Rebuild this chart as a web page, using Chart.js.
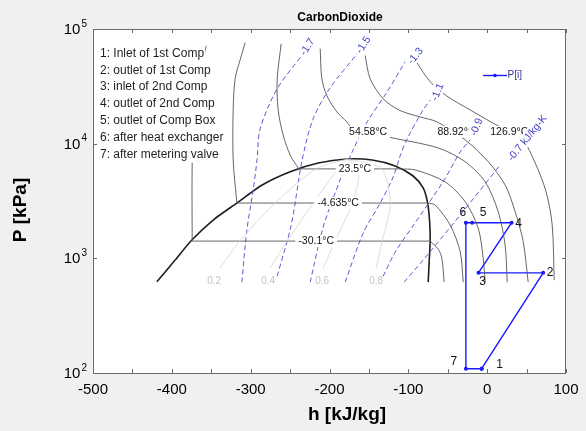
<!DOCTYPE html>
<html>
<head>
<meta charset="utf-8">
<script src="https://cdn.jsdelivr.net/npm/chart.js@4.4.0/dist/chart.umd.min.js"></script>
<style>
  html, body { margin: 0; padding: 0; background: #f0f0f0; }
</style>
</head>
<body>
<canvas id="myChart" width="586" height="431"></canvas>
<script>
const FONT = '"Liberation Sans", Arial, sans-serif';

// saturation dome (h in kJ/kg, P in kPa)
const domeH = [-419, -395.8, -374.6, -347.6, -317.5, -285.4, -249.9, -214.4, -178, -145.9, -116.7, -93.9, -81.2, -75.5, -72.9, -72.3, -73.6, -74.8];
const domeP = [624, 966, 1443, 2158, 3035, 4365, 5700, 6790, 7360, 7210, 6400, 5224, 4110, 3035, 2045, 1414, 927, 620];

// isotherms: liquid / supercritical branch, then vapour branch (plateau joins them)
const isoNames = ['-30.1°C', '-4.635°C', '23.5°C', '54.58°C', '88.92°C', '126.9°C'];
const isoLiqH = [
    [-356.4, -366.6, -371.7, -374.2, -374.2],
    [-307, -313.3, -319.7, -322.2, -322.2, -317.5],
    [-261.3, -266.4, -265.1, -258.8, -249.9, -239],
    [-211.8, -209.7, -203.3, -190.7, -178, -172.5, -125.6, -62.2, -27.9, -2.5, 14, 22.8, 25.4],
    [-154.8, -148.4, -131.9, -110.4, -85, -63.8, -27.9, 1.3, 22.8, 35.5, 45.7, 52],
    [-89.2, -72.3, -51.1, -21.6, 3.8, 44.4, 60.9, 74.8, 82.5, 85]
];
const isoLiqP = [
    [71400, 36100, 16100, 6520, 1414],
    [75900, 53950, 36800, 19700, 7210, 3035],
    [74300, 36100, 19700, 11900, 7970, 6025],
    [67300, 36800, 26200, 18950, 15500, 14000, 11460, 9180, 6960, 4640, 2550, 1303, 620],
    [58700, 36800, 24600, 19450, 17100, 15500, 10800, 6960, 4365, 2550, 1400, 620],
    [50800, 34700, 26000, 19700, 15600, 10800, 6790, 3790, 1950, 645]
];
const isoVapH = [
    [-72.3, -62, -57.5, -54.5],
    [-75.5, -66, -46.9, -34.2, -30.4],
    [-110.4, -91.3, -53.3, -27.9, -11.4, -5.1, -2.5],
    [], [], []
];
const isoVapP = [
    [1414, 1200, 1000, 620],
    [3035, 2915, 1950, 1140, 620],
    [6025, 5900, 4640, 3120, 1837, 1005, 620],
    [], [], []
];
const isoLabelH = [-216.9, -189, -167.8, -151, -39, 28];
const isoLabelP = [1414, 3035, 6025, 12680, 12680, 12680];

// isentropes (kJ/kg-K)
const sNames = ['-1.7', '-1.5', '-1.3', '-1.1', '-0.9', '-0.7 kJ/kg-K'];
const sH = [
    [-311.2, -304.8, -296.8, -291.8, -288, -266.4, -233.4],
    [-266.4, -248.6, -234.7, -220.7, -199.2, -164.9],
    [-224.5, -208, -186.5, -170, -152.2, -126.9, -104],
    [-180.1, -157.3, -135.7, -119.2, -110.4, -101.5, -81.2, -72.3],
    [-131.9, -116.7, -95.1, -54.5, -34.2, -21.6],
    [-105.3, -81.2, -34.2, 16.5]
];
const sP = [
    [620, 1766, 3945, 7360, 13450, 30100, 60800],
    [699, 1950, 7210, 16500, 30700, 60800],
    [620, 1874, 4830, 8830, 15500, 28300, 51800],
    [620, 1660, 3035, 5125, 7820, 11000, 19700, 24000],
    [699, 1133, 1874, 4830, 8470, 10800],
    [620, 966, 2385, 6520]
];
const sLabelH = [-228.3, -157.3, -91.3, -63.4, -14, 50.7];
const sLabelP = [70000, 72900, 58500, 28300, 14000, 11220];
const sLabelAngle = [-57, -57, -50, -68, -68, -51];

// quality lines
const qNames = ['0.2', '0.4', '0.6', '0.8'];
const qH = [
    [-338.7, -313.8, -268.9, -216.9, -177.6],
    [-275.3, -253.7, -220.7, -189, -177.6],
    [-208, -192.8, -171.2, -162.4, -177.6],
    [-140.8, -133.2, -123, -134.4, -177.6]
];
const qP = [822, 1414, 3035, 6025, 7360];
const qLabelH = [-346.3, -277.8, -209.3, -140.8];
const qLabelP = 632;

// cycle states P[i]
const cycH = [-7, 71, -11, 31, -19, -27, -27, -7];
const cycP = [109, 747, 747, 2045, 2045, 2045, 109, 109];
const stateNames = ['1', '2', '3', '4', '5', '6', '7'];
const stateNotes = [
    '1: Inlet of 1st Comp',
    '2: outlet of 1st Comp',
    '3: inlet of 2nd Comp',
    '4: outlet of 2nd Comp',
    '5: outlet of Comp Box',
    '6: after heat exchanger',
    '7: after metering valve'
];

const xTicks = [-500, -400, -300, -200, -100, 0, 100];
const yExp = [2, 3, 4, 5];

const pts = (hs, ps) => hs.map((h, i) => ({ x: h, y: Array.isArray(ps) ? ps[i] : ps }));

const datasets = [];
qH.forEach(hs => datasets.push({
    data: pts(hs, qP), borderColor: '#d4d4d4', borderWidth: 0.8, tension: 0.3
}));
isoLiqH.forEach((hs, i) => {
    datasets.push({ data: pts(hs, isoLiqP[i]), borderColor: '#555555', borderWidth: 0.9, tension: 0.3 });
    if (isoVapH[i].length) {
        const n = hs.length - 1;
        datasets.push({
            data: [{ x: hs[n], y: isoLiqP[i][n] }, { x: isoVapH[i][0], y: isoVapP[i][0] }],
            borderColor: '#555555', borderWidth: 0.9
        });
        datasets.push({ data: pts(isoVapH[i], isoVapP[i]), borderColor: '#555555', borderWidth: 0.9, tension: 0.3 });
    }
});
sH.forEach((hs, i) => datasets.push({
    data: pts(hs, sP[i]), borderColor: '#5c5cd6', borderWidth: 1, borderDash: [5, 3], tension: 0.3
}));
datasets.push({ data: pts(domeH, domeP), borderColor: '#1e1e1e', borderWidth: 1.6, tension: 0.25 });
datasets.push({
    label: 'P[i]', data: pts(cycH, cycP), borderColor: '#1a1aff', borderWidth: 1.4,
    pointRadius: 2, pointBackgroundColor: '#1a1aff', pointBorderWidth: 0
});
datasets.forEach(d => { d.showLine = true; if (d.pointRadius === undefined) d.pointRadius = 0; });

// label offsets for the state numbers, in pixels
const stateDX = [18, 7, 4, 7, 11, -3, -12];
const stateDY = [-4, 0, 9, 1, -10, -10, -7];

function boxText(c, text, px, py, font, color, angle, pad) {
    c.save();
    c.translate(px, py);
    if (angle) c.rotate(angle * Math.PI / 180);
    c.font = font;
    const w = c.measureText(text).width;
    c.fillStyle = '#ffffff';
    c.fillRect(-w / 2 - pad, -6, w + pad * 2, 12);
    c.fillStyle = color;
    c.textAlign = 'center';
    c.textBaseline = 'middle';
    c.fillText(text, 0, 0.5);
    c.restore();
}

const deco = {
    id: 'deco',
    beforeDraw(chart) {
        const c = chart.ctx, a = chart.chartArea;
        c.save();
        c.fillStyle = '#f0f0f0';
        c.fillRect(0, 0, chart.width, chart.height);
        c.fillStyle = '#ffffff';
        c.fillRect(a.left, a.top, a.right - a.left, a.bottom - a.top);
        c.restore();
    },
    afterDatasetsDraw(chart) {
        const c = chart.ctx, a = chart.chartArea;
        const X = v => chart.scales.x.getPixelForValue(v);
        const Y = v => chart.scales.y.getPixelForValue(v);

        // isotherm labels
        isoNames.forEach((t, i) => boxText(c, t, X(isoLabelH[i]), Y(isoLabelP[i]), '10.5px ' + FONT, '#111', 0, 3));
        // quality labels
        c.save();
        c.font = '10px ' + FONT;
        c.fillStyle = '#c4c4c4';
        c.textAlign = 'center';
        c.textBaseline = 'middle';
        qNames.forEach((t, i) => c.fillText(t, X(qLabelH[i]), Y(qLabelP)));
        c.restore();
        // isentrope labels
        sNames.forEach((t, i) => boxText(c, t, X(sLabelH[i]), Y(sLabelP[i]), '10.5px ' + FONT, '#3c3cc4', sLabelAngle[i], 1));

        // state notes
        c.save();
        c.font = '12px ' + FONT;
        c.textBaseline = 'middle';
        stateNotes.forEach((t, i) => {
            const y = a.top + 24.5 + i * 16.8;
            const w = c.measureText(t).width;
            c.fillStyle = '#ffffff';
            c.fillRect(a.left + 5, y - 8.5, w + 3, 17);
            c.fillStyle = '#1e1e1e';
            c.fillText(t, a.left + 7, y);
        });
        c.restore();

        // state numbers
        c.save();
        c.font = '12px ' + FONT;
        c.fillStyle = '#111';
        c.textAlign = 'center';
        c.textBaseline = 'middle';
        stateNames.forEach((t, i) => c.fillText(t, X(cycH[i]) + stateDX[i], Y(cycP[i]) + stateDY[i]));
        c.restore();

        // legend
        c.save();
        const ly = a.top + 46.5, lx = a.right - 83;
        c.strokeStyle = '#1a1aff';
        c.lineWidth = 1.4;
        c.beginPath(); c.moveTo(lx, ly); c.lineTo(lx + 24, ly); c.stroke();
        c.fillStyle = '#1a1aff';
        c.beginPath(); c.arc(lx + 12, ly, 1.8, 0, Math.PI * 2); c.fill();
        c.font = '10px ' + FONT;
        c.fillStyle = '#33339a';
        c.textBaseline = 'middle';
        c.fillText(datasets[datasets.length - 1].label, lx + 24.5, ly);
        c.restore();
    },
    afterDraw(chart) {
        const c = chart.ctx, a = chart.chartArea;
        const X = v => chart.scales.x.getPixelForValue(v);
        const Y = v => chart.scales.y.getPixelForValue(v);
        c.save();
        // frame
        c.strokeStyle = '#6a6a6a';
        c.lineWidth = 1;
        c.strokeRect(Math.round(a.left) + 0.5, Math.round(a.top) + 0.5,
            Math.round(a.right - a.left) - 1, Math.round(a.bottom - a.top));
        // ticks
        c.beginPath();
        for (let v = -500; v <= 100; v += 50) {
            const px = Math.round(X(v)) + 0.5;
            c.moveTo(px, a.bottom); c.lineTo(px, a.bottom - 4);
            c.moveTo(px, a.top); c.lineTo(px, a.top + 4);
        }
        yExp.forEach(e => {
            const py = Math.round(Y(Math.pow(10, e))) + 0.5;
            c.moveTo(a.left, py); c.lineTo(a.left + 4, py);
            c.moveTo(a.right, py); c.lineTo(a.right - 4, py);
        });
        c.stroke();

        // x tick labels
        c.fillStyle = '#000';
        c.font = '15px ' + FONT;
        c.textAlign = 'center';
        c.textBaseline = 'middle';
        xTicks.forEach(v => c.fillText(String(v), X(v), a.bottom + 17));

        // y tick labels 10^e
        yExp.forEach(e => {
            const py = Y(Math.pow(10, e));
            c.font = '10px ' + FONT;
            c.textAlign = 'right';
            const sw = c.measureText(String(e)).width;
            c.fillText(String(e), a.left - 6, py - 5);
            c.font = '15px ' + FONT;
            c.fillText('10', a.left - 7 - sw, py + 1);
        });

        // title and axis titles
        c.textAlign = 'center';
        c.font = 'bold 12px ' + FONT;
        c.fillText('CarbonDioxide', 340, 18);
        c.font = 'bold 19px ' + FONT;
        c.fillText('h [kJ/kg]', 347, 415);
        c.translate(21, 210);
        c.rotate(-Math.PI / 2);
        c.fillText('P [kPa]', 0, 0);
        c.restore();
    }
};

new Chart(document.getElementById('myChart'), {
    type: 'scatter',
    data: { datasets: datasets },
    options: {
        responsive: false,
        animation: false,
        layout: { padding: { left: 93, top: 29, right: 20, bottom: 58 } },
        plugins: {
            legend: { display: false },
            tooltip: { enabled: false },
            title: { display: false }
        },
        scales: {
            x: {
                type: 'linear', min: -500, max: 100,
                ticks: { display: false },
                grid: { display: false, drawTicks: false },
                border: { display: false }
            },
            y: {
                type: 'logarithmic', min: 100, max: 100000,
                ticks: { display: false },
                grid: { display: false, drawTicks: false },
                border: { display: false }
            }
        }
    },
    plugins: [deco]
});
</script>
</body>
</html>
